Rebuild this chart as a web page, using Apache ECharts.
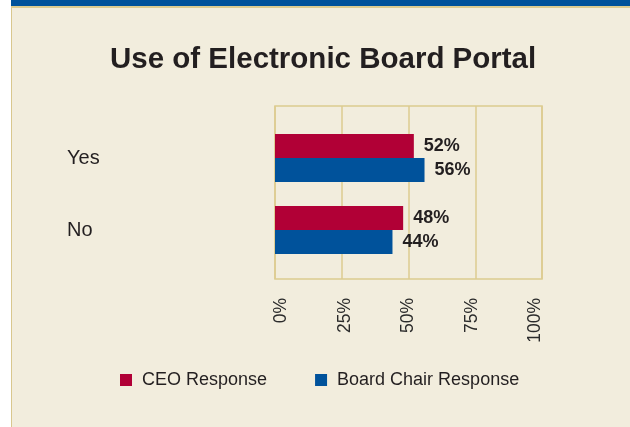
<!DOCTYPE html>
<html>
<head>
<meta charset="utf-8">
<script src="https://cdn.jsdelivr.net/npm/echarts@6/dist/echarts.min.js"></script>
<style>
  html, body { margin: 0; padding: 0; background: #ffffff; }
  #panel {
    position: absolute; left: 11px; top: 0; width: 619px; height: 427px;
    background: #f2eddd;
    border-left: 1.5px solid #d9c78e;
    box-sizing: border-box;
  }
  #panel .band { position: absolute; left: -1.5px; right: 0; top: 0; height: 6px; background: #00529b; }
  #panel .rule { position: absolute; left: -1.5px; right: 0; top: 6px; height: 1.5px; background: #dccb90; }
  #chart { position: absolute; left: 0; top: 0; width: 630px; height: 427px; }
</style>
</head>
<body>
<div id="panel"><div class="band"></div><div class="rule"></div></div>
<div id="chart"></div>
<script>
// Survey answers, in percent
const categories = ['Yes', 'No'];
const ceoResponse = [52, 48];
const chairResponse = [56, 44];
const seriesNames = ['CEO Response', 'Board Chair Response'];
const tickValues = [0, 25, 50, 75, 100];

const FONT = "'Liberation Sans', Arial, Helvetica, sans-serif";
const INK = '#231f20';
const RULE = '#dccb8f';
const RED = '#b10036';
const BLUE = '#00529b';

const chart = echarts.init(document.getElementById('chart'), null, { renderer: 'canvas' });

const pctAxis = (gridIndex, extra) => Object.assign({
  type: 'value', gridIndex,
  min: tickValues[0], max: tickValues[tickValues.length - 1],
  interval: tickValues[1] - tickValues[0],
  axisLine: { show: false }, axisTick: { show: false },
  axisLabel: { show: false }, splitLine: { show: false }
}, extra);

chart.setOption({
  backgroundColor: 'transparent',
  animation: false,
  title: {
    text: 'Use of Electronic Board Portal',
    left: 105, top: 40,
    textStyle: { fontFamily: FONT, fontSize: 29.5, fontWeight: 'bold', color: INK }
  },
  legend: {
    data: seriesNames,
    left: 115, top: 366,
    icon: 'rect', itemWidth: 12, itemHeight: 12, itemGap: 48,
    textStyle: { fontFamily: FONT, fontSize: 18, color: INK, padding: [0, 0, 0, 5] }
  },
  grid: [
    // frame with vertical rules
    { left: 275, right: 88, top: 106, bottom: 148, show: true,
      borderColor: RULE, borderWidth: 1.5, backgroundColor: 'transparent' },
    // bars
    { left: 275, right: 88, top: 122, bottom: 161 },
    // percentage tick labels
    { left: 281.5, right: 94.5, top: 106, bottom: 148 }
  ],
  xAxis: [
    pctAxis(0, { splitLine: { show: true, lineStyle: { color: RULE, width: 1.5 } } }),
    pctAxis(1),
    pctAxis(2, {
      axisLabel: {
        show: true, rotate: 90, margin: 19,
        formatter: v => v + '%',
        fontFamily: FONT, fontSize: 17.5, color: '#2b2b2b'
      }
    })
  ],
  yAxis: [
    { type: 'category', gridIndex: 0, data: categories, show: false },
    {
      type: 'category', gridIndex: 1, data: categories, inverse: true,
      axisLine: { show: false }, axisTick: { show: false }, splitLine: { show: false },
      axisLabel: { align: 'left', margin: 208, fontFamily: FONT, fontSize: 20, color: INK }
    },
    { type: 'category', gridIndex: 2, data: categories, show: false }
  ],
  series: [
    {
      name: seriesNames[0], type: 'bar', xAxisIndex: 1, yAxisIndex: 1,
      data: ceoResponse, barWidth: 24, barGap: '0%',
      itemStyle: { color: RED },
      label: { show: true, position: 'right', distance: 10, formatter: '{c}%',
        fontFamily: FONT, fontSize: 18, fontWeight: 'bold', color: INK }
    },
    {
      name: seriesNames[1], type: 'bar', xAxisIndex: 1, yAxisIndex: 1,
      data: chairResponse, barWidth: 24, barGap: '0%',
      itemStyle: { color: BLUE },
      label: { show: true, position: 'right', distance: 10, formatter: '{c}%',
        fontFamily: FONT, fontSize: 18, fontWeight: 'bold', color: INK }
    }
  ]
});
</script>
</body>
</html>
